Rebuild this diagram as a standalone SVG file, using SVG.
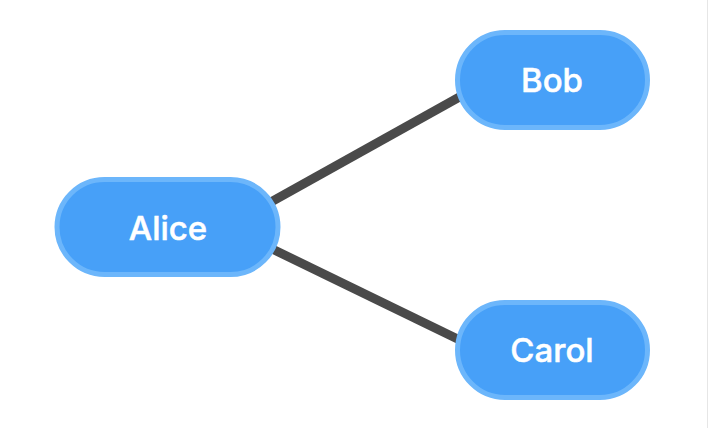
<svg xmlns="http://www.w3.org/2000/svg" width="708" height="428" viewBox="0 0 708 428">
<style>
.node rect{fill:#47a0f8;stroke:#6cb6fb;stroke-width:5}
.node text{fill:#ffffff;font-family:Inter,"Liberation Sans",sans-serif;font-weight:500;font-size:33px;text-anchor:middle;stroke:#ffffff;stroke-width:0.5}
.edge{stroke:#4a4a4a;stroke-width:9;stroke-linecap:butt}
</style>
<rect x="0" y="0" width="708" height="428" fill="#ffffff"/>
<line x1="707.5" y1="0" x2="707.5" y2="428" stroke="#e6e6e6" stroke-width="1"/>
<g id="connectors">
<line class="edge" x1="262" y1="207" x2="472" y2="90"/>
<line class="edge" x1="262" y1="244" x2="472" y2="346"/>
</g>
<g id="alice" class="node">
<rect x="57" y="179.5" width="221" height="95" rx="47.5"/>
<text x="168" y="240">Alice</text>
</g>
<g id="bob" class="node">
<rect x="457.5" y="32.5" width="190" height="95" rx="47.5"/>
<text x="552" y="92">Bob</text>
</g>
<g id="carol" class="node">
<rect x="457.5" y="302.5" width="190" height="95" rx="47.5"/>
<text x="552" y="362">Carol</text>
</g>
</svg>
